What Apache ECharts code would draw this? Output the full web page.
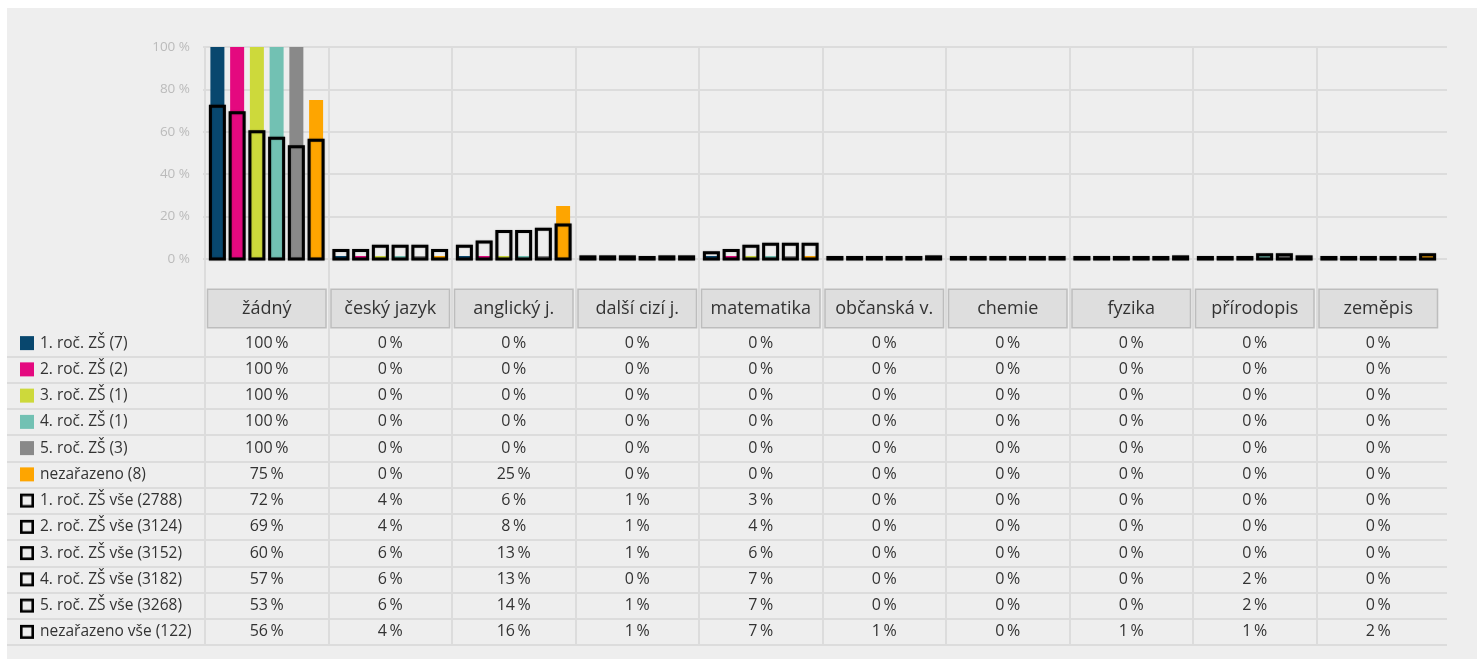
<!DOCTYPE html>
<html>
<head>
<meta charset="utf-8">
<script src="https://cdn.jsdelivr.net/npm/echarts@6/dist/echarts.min.js"></script>
<style>
  html, body { margin: 0; padding: 0; background: #ffffff; }
  #panel { position: absolute; left: 7px; top: 8px; width: 1470px; height: 651px; background: #eeeeee; }
  #chart { position: absolute; left: 0; top: 0; width: 1477px; height: 659px; }
</style>
</head>
<body>
<div id="panel"></div>
<div id="chart"></div>
<script>
const subjects = ['žádný', 'český jazyk', 'anglický j.', 'další cizí j.', 'matematika', 'občanská v.', 'chemie', 'fyzika', 'přírodopis', 'zeměpis'];

const groupNames = ['1. roč. ZŠ (7)', '2. roč. ZŠ (2)', '3. roč. ZŠ (1)', '4. roč. ZŠ (1)', '5. roč. ZŠ (3)', 'nezařazeno (8)'];
const allNames = ['1. roč. ZŠ vše (2788)', '2. roč. ZŠ vše (3124)', '3. roč. ZŠ vše (3152)', '4. roč. ZŠ vše (3182)', '5. roč. ZŠ vše (3268)', 'nezařazeno vše (122)'];
const colors = ['#08476e', '#e4097f', '#cdd93b', '#72c1b3', '#898989', '#fea500'];

// percent of respondents per subject, one list per group
const group1 = [100, 0, 0, 0, 0, 0, 0, 0, 0, 0];
const group2 = [100, 0, 0, 0, 0, 0, 0, 0, 0, 0];
const group3 = [100, 0, 0, 0, 0, 0, 0, 0, 0, 0];
const group4 = [100, 0, 0, 0, 0, 0, 0, 0, 0, 0];
const group5 = [100, 0, 0, 0, 0, 0, 0, 0, 0, 0];
const groupNone = [75, 0, 25, 0, 0, 0, 0, 0, 0, 0];

const all1 = [72, 4, 6, 1, 3, 0, 0, 0, 0, 0];
const all2 = [69, 4, 8, 1, 4, 0, 0, 0, 0, 0];
const all3 = [60, 6, 13, 1, 6, 0, 0, 0, 0, 0];
const all4 = [57, 6, 13, 0, 7, 0, 0, 0, 2, 0];
const all5 = [53, 6, 14, 1, 7, 0, 0, 0, 2, 0];
const allNone = [56, 4, 16, 1, 7, 1, 0, 1, 1, 2];

const yTicks = [0, 20, 40, 60, 80, 100];

const groupValues = [group1, group2, group3, group4, group5, groupNone];
const allValues = [all1, all2, all3, all4, all5, allNone];
const rowNames = groupNames.concat(allNames);
const rowValues = groupValues.concat(allValues);

const FONT = '"Open Sans", "Noto Sans", sans-serif';
const LINE = '#dcdcdc';
const TEXT = '#333333';
const BAR_WIDTH = 14;
const BAR_GAP = 0.41;

function pct(value) {
  return `${value}\u2009%`;
}

function outlineIcon() {
  const canvas = document.createElement('canvas');
  canvas.width = 14;
  canvas.height = 14;
  const ctx = canvas.getContext('2d');
  ctx.strokeStyle = '#000000';
  ctx.lineWidth = 2.6;
  ctx.strokeRect(1.3, 1.3, 11.4, 11.4);
  return canvas;
}

function rowLabelRich() {
  const rich = { t: { fontFamily: FONT, fontSize: 15.5, color: TEXT, padding: [0, 0, 0, 6] } };
  colors.forEach((color, index) => {
    rich['s' + index] = { width: 14, height: 14, backgroundColor: color };
  });
  rich.o = { width: 14, height: 14, backgroundColor: { image: outlineIcon() } };
  return rich;
}

function rowLabel(name, index) {
  const icon = index < groupNames.length ? `{s${index}|}` : '{o|}';
  return `${icon}{t|${name}}`;
}

function tableCells() {
  const cells = [];
  rowValues.forEach((values, row) => {
    values.forEach((value, col) => cells.push([col, row, value]));
  });
  return cells;
}

// outline bars: stroke centred on the bar edge, placed on the same slots as the solid bars
function outlineSeries(values, index) {
  const step = BAR_WIDTH * (1 + BAR_GAP);
  const offset = (index - (allValues.length - 1) / 2) * step;
  return {
    name: allNames[index],
    type: 'custom',
    xAxisIndex: 1,
    yAxisIndex: 0,
    z: 3,
    data: values.map((value, col) => [col, value]),
    renderItem: (params, api) => {
      const base = api.coord([api.value(0), 0]);
      const top = api.coord([api.value(0), api.value(1)]);
      const height = Math.max(base[1] - top[1], 1.5);
      return {
        type: 'rect',
        shape: { x: base[0] + offset - BAR_WIDTH / 2, y: base[1] - height, width: BAR_WIDTH, height },
        style: { fill: 'none', stroke: '#000000', lineWidth: 3, shadowBlur: 1.5, shadowColor: 'rgba(0,0,0,0.35)' },
      };
    },
  };
}

const hidden = { show: false };

const option = {
  animation: false,
  textStyle: { fontFamily: FONT },
  grid: [
    { left: 205, right: 37, top: 47, bottom: 400 },   // bars
    { left: 205, right: 37, top: 330, bottom: 14 },   // table cells
    { left: 7, right: 30, top: 330, bottom: 14 },     // table row lines
    { left: 205, right: 37, top: 47, bottom: 14 },    // column lines
    { left: 203, right: 30, top: 47, bottom: 400 },   // value lines
  ],
  xAxis: [
    { gridIndex: 0, type: 'category', data: subjects, axisLine: hidden, axisTick: hidden, axisLabel: hidden },
    { gridIndex: 0, type: 'category', data: subjects, show: false },
    {
      gridIndex: 1, type: 'category', data: subjects, position: 'top',
      axisLine: hidden, axisTick: hidden,
      axisLabel: {
        interval: 0, margin: 3, color: TEXT, fontFamily: FONT, fontSize: 18,
        width: 117, height: 37, lineHeight: 37, align: 'center',
        backgroundColor: '#dedede', borderColor: '#bdbdbd', borderWidth: 1.5,
      },
    },
    { gridIndex: 2, type: 'value', show: false },
    {
      gridIndex: 3, type: 'category', data: subjects,
      axisLine: hidden, axisTick: hidden, axisLabel: hidden,
      splitLine: { show: true, showMaxLine: false, lineStyle: { color: LINE, width: 2 } },
    },
    { gridIndex: 4, type: 'value', show: false },
  ],
  yAxis: [
    {
      gridIndex: 0, type: 'value', min: yTicks[0], max: yTicks[yTicks.length - 1], interval: yTicks[1] - yTicks[0],
      axisLine: hidden, axisTick: hidden, splitLine: hidden,
      axisLabel: { formatter: '{value} %', color: '#bbbbbb', fontSize: 13.5, margin: 15 },
    },
    {
      gridIndex: 1, type: 'category', data: rowNames, inverse: true,
      axisLine: hidden, axisTick: hidden, splitLine: hidden,
      axisLabel: {
        interval: 0, align: 'left', margin: 185,
        formatter: (value, index) => rowLabel(value, index),
        rich: rowLabelRich(),
      },
    },
    {
      gridIndex: 2, type: 'category', data: rowNames, inverse: true,
      axisLine: hidden, axisTick: hidden, axisLabel: hidden,
      splitLine: { show: true, showMinLine: false, lineStyle: { color: LINE, width: 2 } },
    },
    { gridIndex: 3, type: 'value', show: false },
    {
      gridIndex: 4, type: 'value', min: yTicks[0], max: yTicks[yTicks.length - 1], interval: yTicks[1] - yTicks[0],
      axisLine: hidden, axisTick: hidden, axisLabel: hidden,
      splitLine: { show: true, lineStyle: { color: LINE, width: 2 } },
    },
  ],
  series: [
    ...groupValues.map((values, index) => ({
      name: groupNames[index],
      type: 'bar',
      xAxisIndex: 0,
      yAxisIndex: 0,
      data: values,
      barWidth: BAR_WIDTH,
      barGap: `${BAR_GAP * 100}%`,
      barMinHeight: 3,
      z: 2,
      itemStyle: { color: colors[index] },
    })),
    ...allValues.map(outlineSeries),
    {
      type: 'custom',
      xAxisIndex: 2,
      yAxisIndex: 1,
      data: tableCells(),
      renderItem: (params, api) => {
        const point = api.coord([api.value(0), api.value(1)]);
        return {
          type: 'text',
          x: point[0],
          y: point[1],
          style: {
            text: pct(api.value(2)),
            align: 'center',
            verticalAlign: 'middle',
            fill: TEXT,
            font: `16px ${FONT}`,
          },
        };
      },
    },
  ],
};

const chart = echarts.init(document.getElementById('chart'), null, { renderer: 'canvas' });
chart.setOption(option);
</script>
</body>
</html>
